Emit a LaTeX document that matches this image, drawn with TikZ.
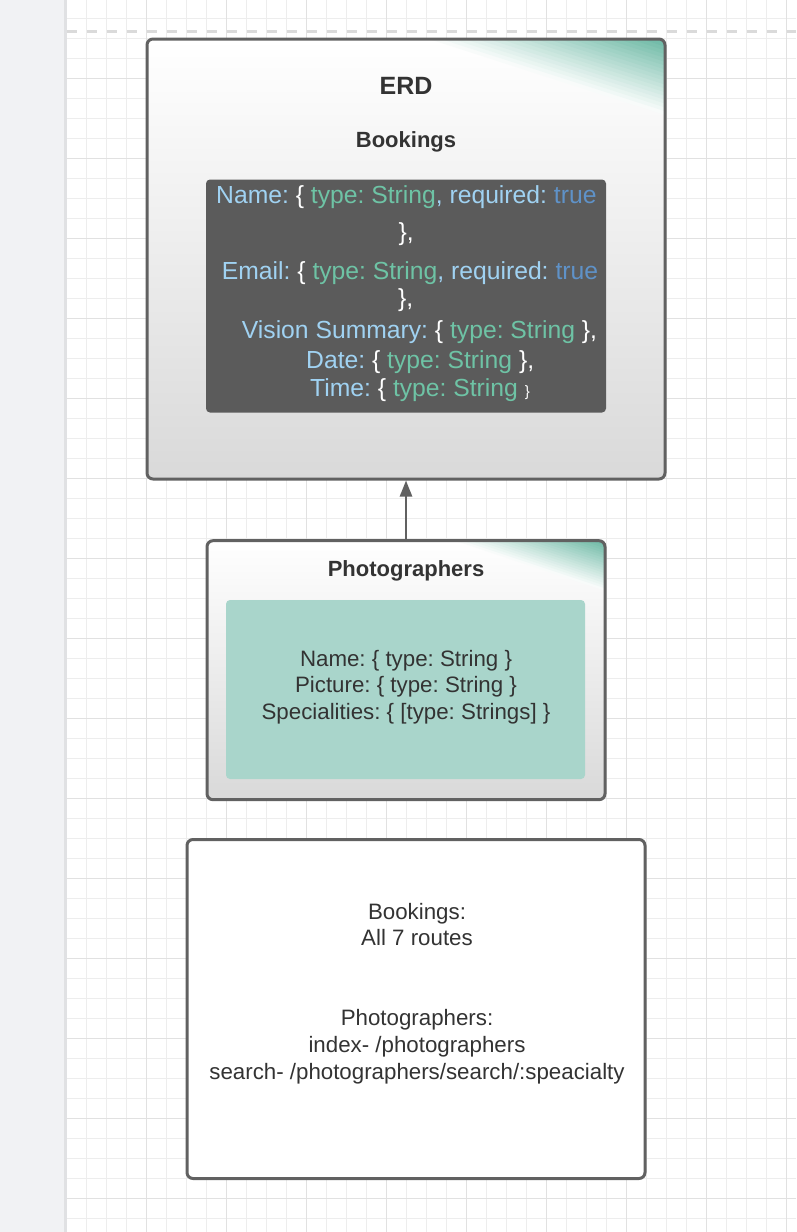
\documentclass[tikz,border=0pt]{standalone}
\usepackage{fontspec}
\setmainfont{Liberation Sans}
\usetikzlibrary{arrows.meta}

\definecolor{panelgrey}{HTML}{F1F2F4}
\definecolor{paneledge}{HTML}{E0E1E3}
\definecolor{gridminor}{HTML}{EDEDED}
\definecolor{gridmajor}{HTML}{E1E1E1}
\definecolor{dashgrey}{HTML}{DADADA}
\definecolor{boxline}{HTML}{616161}
\definecolor{boxgrey}{HTML}{D9D9D9}
\definecolor{cornerteal}{HTML}{6DB9A5}
\definecolor{codebg}{HTML}{5B5B5B}
\definecolor{keyblue}{HTML}{A0D2F2}
\definecolor{typeteal}{HTML}{6EC3A5}
\definecolor{trueblue}{HTML}{5F92C8}
\definecolor{fieldteal}{HTML}{A9D5CB}
\definecolor{textgrey}{HTML}{333333}

\tikzset{
  entitybox/.style={draw=boxline, line width=3pt, rounded corners=6pt,
    top color=white, bottom color=boxgrey, inner sep=0pt},
  teal corner/.style 2 args={path picture={
    \foreach \k [evaluate=\k as \s using 1-\k/20, evaluate=\k as \p using int(5*\k+5)] in {0,...,19}
      \fill[sharp corners, cornerteal!\p!white]
        ([xshift=-\s*#1pt]path picture bounding box.north east) --
        (path picture bounding box.north east) --
        ([yshift=-\s*#2pt]path picture bounding box.north east) -- cycle;
  }},
  routebox/.style={draw=boxline, line width=3pt, rounded corners=6pt, fill=white, inner sep=0pt},
  codebox/.style={fill=codebg, rounded corners=4pt, inner sep=0pt},
  fieldbox/.style={fill=fieldteal, rounded corners=4pt, inner sep=0pt},
  boxtitle/.style={anchor=base, inner sep=0pt, text=textgrey, font=\bfseries\fontsize{22}{26}\selectfont},
  codeline/.style={anchor=base west, inner sep=0pt, text=white, font=\frenchspacing\fontsize{24.7}{29}\selectfont},
  fieldline/.style={anchor=base, inner sep=0pt, text=textgrey, font=\frenchspacing\fontsize{22.3}{26}\selectfont},
  connector/.style={draw=boxline, line width=2.5pt, -{Triangle[length=16pt, width=12pt]}},
}

\begin{document}
\begin{tikzpicture}[x=1pt, y=-1pt]

\useasboundingbox (0,0) rectangle (796,1232);
\fill[white] (0,0) rectangle (796,1232);

% draw grid
\foreach \x in {66.7,86.7,...,796} \draw[gridminor, line width=1pt] (\x,0) -- (\x,1232);
\foreach \y in {18.3,38.3,...,1232} \draw[gridminor, line width=1pt] (66.7,\y) -- (796,\y);
\foreach \x in {146.7,226.7,...,796} \draw[gridmajor, line width=1pt] (\x,0) -- (\x,1232);
\foreach \y in {78.3,158.3,...,1232} \draw[gridmajor, line width=1pt] (66.7,\y) -- (796,\y);

% draw side panel and page edge
\fill[panelgrey] (0,0) rectangle (63.5,1232);
\fill[paneledge] (63.5,0) rectangle (66.7,1232);
\draw[dashgrey, line width=3pt, dash pattern=on 10pt off 10pt] (66.7,31) -- (796,31);

% draw ERD box
\node[entitybox, teal corner={236}{76}, minimum width=518pt, minimum height=440pt] (erd) at (406,259) {};
\node[boxtitle, font=\bfseries\fontsize{25}{30}\selectfont] (erdtitle) at (406,94) {ERD};
\node[boxtitle] (bookingstitle) at (406,147) {Bookings};
\node[codebox, minimum width=400pt, minimum height=233pt] (bookingfields) at (406,296) {};

\node[codeline] (name) at (216,203.3) {\textcolor{keyblue}{Name:} \{ \textcolor{typeteal}{type: String}\textcolor{keyblue}{, required:} \textcolor{trueblue}{true}};
\node[codeline] (nameend) at (398.3,240) {\},};
\node[codeline] (email) at (221.7,279) {\textcolor{keyblue}{Email:} \{ \textcolor{typeteal}{type: String}\textcolor{keyblue}{, required:} \textcolor{trueblue}{true}};
\node[codeline] (emailend) at (398,306.5) {\},};
\node[codeline] (vision) at (241.7,338.3) {\textcolor{keyblue}{Vision Summary:} \{ \textcolor{typeteal}{type: String} \},};
\node[codeline] (date) at (306,368.3) {\textcolor{keyblue}{Date:} \{ \textcolor{typeteal}{type: String} \},};
\node[codeline] (time) at (310,396.7) {\textcolor{keyblue}{Time:} \{ \textcolor{typeteal}{type: String} {\fontsize{15}{18}\selectfont\}}};

% draw photographers box
\node[entitybox, teal corner={150}{50}, minimum width=398pt, minimum height=259pt] (photo) at (406,670.2) {};
\node[boxtitle] (phototitle) at (406,576) {Photographers};
\node[fieldbox, minimum width=359pt, minimum height=179pt] (photofields) at (405.5,689.5) {};
\node[fieldline] (photoname) at (406,666) {Name: \{ type: String \}};
\node[fieldline] (photopicture) at (406,692.5) {Picture: \{ type: String \}};
\node[fieldline] (photospecial) at (406,719) {Specialities: \{ [type: Strings] \}};

% draw connector
\draw[connector] (photo.north) -- (erd.south);

% draw routes box
\node[routebox, minimum width=458pt, minimum height=339pt] (routes) at (416,1009) {};
\node[fieldline] (routebookings) at (417,919) {Bookings:};
\node[fieldline] (routeall) at (417,945) {All 7 routes};
\node[fieldline] (routephoto) at (417,1025) {Photographers:};
\node[fieldline] (routeindex) at (417,1052) {index- /photographers};
\node[fieldline] (routesearch) at (417,1079) {search- /photographers/search/:speacialty};

\end{tikzpicture}
\end{document}
